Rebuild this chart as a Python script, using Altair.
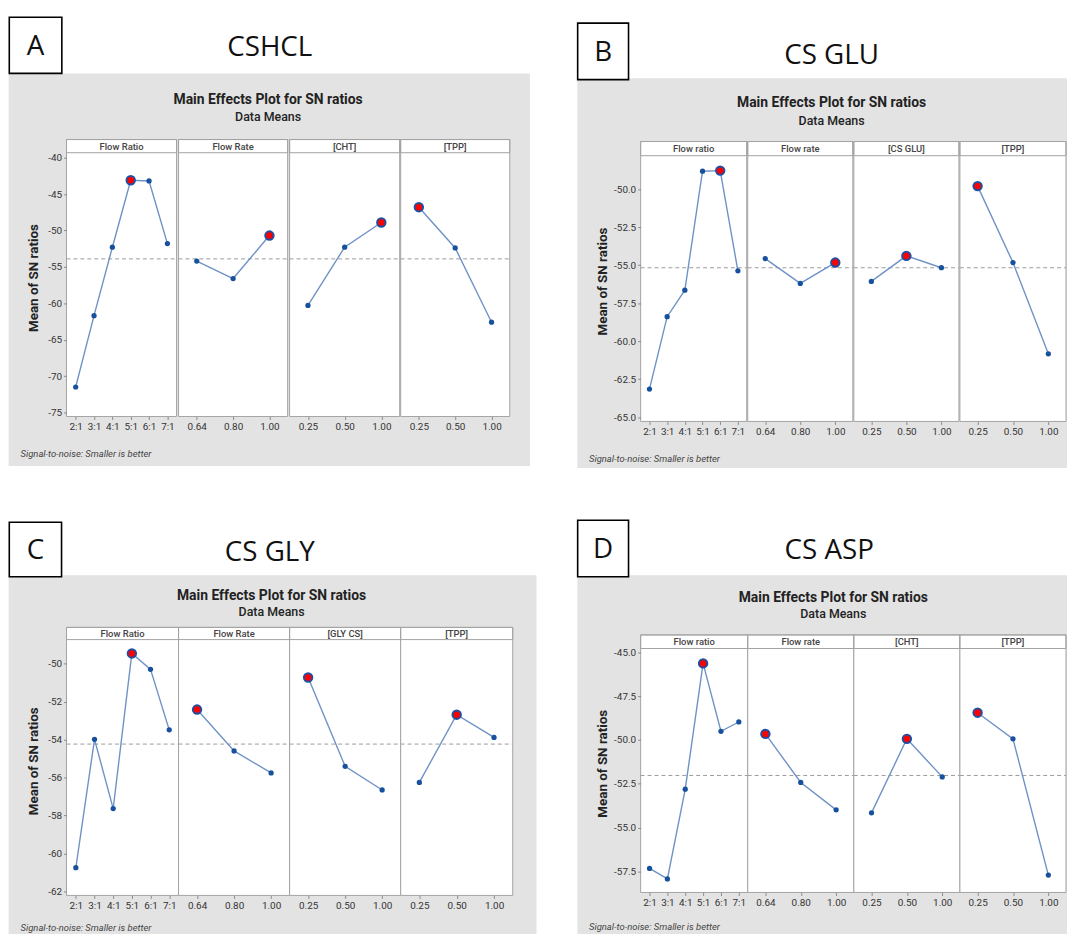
import altair as alt
import pandas as pd

# ---------------- data ----------------
ratio_levels = ["2:1", "3:1", "4:1", "5:1", "6:1", "7:1"]
rate_levels = ["0.64", "0.80", "1.00"]
conc_levels = ["0.25", "0.50", "1.00"]
level_sets = [ratio_levels, rate_levels, conc_levels, conc_levels]

panel_letters = ["A", "B", "C", "D"]
panel_titles = ["CSHCL", "CS GLU", "CS GLY", "CS ASP"]
factor_labels = [
    ["Flow Ratio", "Flow Rate", "[CHT]", "[TPP]"],
    ["Flow ratio", "Flow rate", "[CS GLU]", "[TPP]"],
    ["Flow Ratio", "Flow Rate", "[GLY CS]", "[TPP]"],
    ["Flow ratio", "Flow rate", "[CHT]", "[TPP]"],
]

a_ratio = [-71.5, -61.7, -52.3, -43.1, -43.2, -51.8]
a_rate = [-54.2, -56.6, -50.7]
a_cht = [-60.3, -52.3, -48.9]
a_tpp = [-46.8, -52.4, -62.6]
a_best = ["5:1", "1.00", "1.00", "0.25"]

b_ratio = [-63.15, -58.39, -56.65, -48.82, -48.78, -55.37]
b_rate = [-54.57, -56.2, -54.83]
b_glu = [-56.07, -54.39, -55.17]
b_tpp = [-49.8, -54.83, -60.83]
b_best = ["6:1", "1.00", "0.50", "0.25"]

c_ratio = [-60.76, -53.99, -57.64, -49.46, -50.3, -53.49]
c_rate = [-52.42, -54.6, -55.76]
c_gly = [-50.73, -55.41, -56.66]
c_tpp = [-56.26, -52.69, -53.89]
c_best = ["5:1", "0.64", "0.25", "0.50"]

d_ratio = [-57.33, -57.93, -52.81, -45.64, -49.51, -48.98]
d_rate = [-49.66, -52.43, -53.99]
d_cht = [-54.16, -49.94, -52.11]
d_tpp = [-48.45, -49.94, -57.71]
d_best = ["5:1", "0.64", "0.50", "0.25"]

panel_values = [
    [a_ratio, a_rate, a_cht, a_tpp],
    [b_ratio, b_rate, b_glu, b_tpp],
    [c_ratio, c_rate, c_gly, c_tpp],
    [d_ratio, d_rate, d_cht, d_tpp],
]
panel_best = [a_best, b_best, c_best, d_best]

grand_means = [-53.9, -55.17, -54.24, -52.03]
y_domains = [[-75.55, -39.32], [-65.28, -47.8], [-62.22, -48.73], [-58.7, -44.79]]
y_ticks = [
    [-75, -70, -65, -60, -55, -50, -45, -40],
    [-65.0, -62.5, -60.0, -57.5, -55.0, -52.5, -50.0],
    [-62, -60, -58, -56, -54, -52, -50],
    [-57.5, -55.0, -52.5, -50.0, -47.5, -45.0],
]
y_formats = ["d", ".1f", "d", ".1f"]

main_title = "Main Effects Plot for SN ratios"
sub_title = "Data Means"
y_title = "Mean of SN ratios"
footnote = "Signal-to-noise: Smaller is better"

# ---------------- layout / style ----------------
FONT = "Roboto"
BIG_FONT = "Open Sans"
GRAY = "#e3e3e3"
FRAME = "#a3a3a3"
LINE_C = "#6f92c6"
PT_C = "#17509d"

LAYOUT = [
    dict(widths=[111, 110, 111, 110], H=271, y0=0, y1=266, strip=-13.3,
         gray=(-58.4, 467.4, -80, 316), box=(-57.7, -4.7, -136.7, -80),
         letter=(-31.2, -98.4), title=(205, -97.3), mt=(203.3, -49.3, -32.3),
         foot=(-46.3, 303.7), ytitle=(-32.6, 126.4)),
    dict(widths=[107, 106, 106, 107], H=271, y0=3, y1=271, strip=-11.3,
         gray=(-63.8, 430, -75, 318), box=(-63.5, -12.2, -130.7, -73.7),
         letter=(-37.85, -92.2), title=(192.6, -89), mt=(192.6, -45.7, -28.3),
         foot=(-52, 309.3), ytitle=(-38.2, 129.9)),
    dict(widths=[113, 112, 112, 113], H=258, y0=0, y1=258, strip=-12.3,
         gray=(-58.4, 474, -65, 297), box=(-57.7, -5, -118.3, -63.3),
         letter=(-31.35, -80.8), title=(205, -79.3), mt=(206.8, -40, -23.3),
         foot=(-46.3, 291), ytitle=(-32.6, 122.7)),
    dict(widths=[108, 107, 107, 107], H=258, y0=9, y1=255, strip=-4.7,
         gray=(-63.8, 430, -65, 297), box=(-63.5, -12.2, -120.3, -63.3),
         letter=(-37.85, -81.8), title=(190.2, -81.7), mt=(194.3, -37.7, -21.7),
         foot=(-52, 289.5), ytitle=(-38.2, 125.2)),
]
SPACERS = [129, 121]
ROW_GAP = 220

one = pd.DataFrame({"k": [0]})


def vrect(x0, x1, y0, y1, **kw):
    return alt.Chart(one).mark_rect(**kw).encode(
        x=alt.value(x0), x2=alt.value(x1), y=alt.value(y0), y2=alt.value(y1))


def vtext(x, y, text, **kw):
    return alt.Chart(one).mark_text(text=text, **kw).encode(x=alt.value(x), y=alt.value(y))


def decorations(p):
    L = LAYOUT[p]
    g = L["gray"]
    b = L["box"]
    return [
        vrect(g[0], g[1], g[2], g[3], fill=GRAY),
        vrect(b[0], b[1], b[2], b[3], fill="white", stroke="black", strokeWidth=1.6),
        vtext(L["letter"][0], L["letter"][1], panel_letters[p], font=BIG_FONT, fontSize=28,
              color="#111", align="center", baseline="alphabetic"),
        vtext(L["title"][0], L["title"][1], panel_titles[p], font=BIG_FONT, fontSize=28,
              color="#111", align="center", baseline="alphabetic"),
        vtext(L["mt"][0], L["mt"][1], main_title, font=FONT, fontSize=14, fontWeight="bold",
              color="#222", align="center", baseline="alphabetic"),
        vtext(L["mt"][0], L["mt"][2], sub_title, font=FONT, fontSize=12.5, fontWeight=500,
              color="#222", align="center", baseline="alphabetic"),
        vtext(L["foot"][0], L["foot"][1], footnote, font=FONT, fontSize=9.5, fontStyle="italic",
              color="#444", align="left", baseline="middle"),
        vtext(L["ytitle"][0], L["ytitle"][1], y_title, font=FONT, fontSize=13.5, fontWeight="bold",
              color="#222", align="center", baseline="middle", angle=270),
    ]


def facet(p, k):
    L = LAYOUT[p]
    w = L["widths"][k]
    levels = level_sets[k]
    df = pd.DataFrame({"level": levels, "value": panel_values[p][k],
                       "idx": list(range(len(levels)))})
    best_df = df[df["level"] == panel_best[p][k]]
    xs = alt.Scale(type="point", domain=levels, padding=0.5)
    ys = alt.Scale(domain=y_domains[p], range=[L["y1"], L["y0"]], nice=False, zero=False)
    xaxis = alt.Axis(title=None, labelAngle=0, domain=False, grid=False, tickSize=3,
                     tickColor="#8a8a8a", labelFont=FONT, labelFontSize=10, labelColor="#333",
                     labelPadding=2, offset=L["y1"] - L["H"], zindex=1, labelOverlap=False)
    X = alt.X("level:N", scale=xs, axis=xaxis)
    if k == 0:
        yaxis = alt.Axis(title=None, values=y_ticks[p], domain=False,
                         labelExpr="replace(format(datum.value, '%s'), '\u2212', '-')" % y_formats[p],
                         grid=False, tickSize=3, tickColor="#8a8a8a", labelFont=FONT,
                         labelFontSize=10, labelColor="#333", labelPadding=2, zindex=1)
    else:
        yaxis = None
    Y = alt.Y("value:Q", scale=ys, axis=yaxis)

    layers = decorations(p) if k == 0 else []
    layers += [
        vrect(0, w, L["y0"], L["y1"], fill="white"),
        alt.Chart(pd.DataFrame({"value": [grand_means[p]]})).mark_rule(
            color="#9c9c9c", strokeDash=[4, 3], strokeWidth=1).encode(
            y=Y, x=alt.value(0), x2=alt.value(w)),
        alt.Chart(df).mark_line(color=LINE_C, strokeWidth=1.4).encode(
            x=X, y=Y, order="idx:Q"),
        alt.Chart(df).mark_circle(color=PT_C, size=28, opacity=1).encode(x=X, y=Y),
        alt.Chart(best_df).mark_point(filled=True, fill="#ff0000", stroke="#1f4fa0",
                                      strokeWidth=2, size=72, opacity=1).encode(x=X, y=Y),
        vrect(0, w, L["strip"], L["y0"], fill="white", stroke=FRAME, strokeWidth=1),
        vtext(w / 2, (L["strip"] + L["y0"]) / 2 + 0.5, factor_labels[p][k], font=FONT,
              fontSize=9.5, fontWeight=500, color="#444", align="center", baseline="middle"),
        vrect(0, w, L["strip"], L["y1"], fillOpacity=0, stroke=FRAME, strokeWidth=1),
    ]
    return alt.layer(*layers).properties(width=w, height=L["H"])


def spacer(width, height):
    return vrect(0, 1, 0, 1, opacity=0).properties(width=width, height=height)


cells = []
for row, (pl, pr) in enumerate([(0, 1), (2, 3)]):
    cells += [facet(pl, k) for k in range(4)]
    cells.append(spacer(SPACERS[row], LAYOUT[pl]["H"]))
    cells += [facet(pr, k) for k in range(4)]

chart = alt.ConcatChart(
    concat=cells, columns=9, spacing={"row": ROW_GAP, "column": 0},
    bounds="flush", align="none",
).properties(
    padding={"left": 0, "top": 4, "right": 0, "bottom": 0},
    background="white",
).configure_view(stroke="transparent")

chart.save("out.html", embed_options={"renderer": "svg", "actions": False})
